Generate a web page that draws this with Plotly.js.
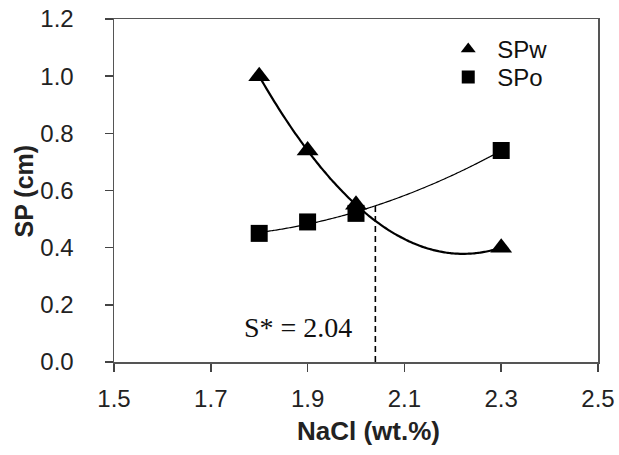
<!DOCTYPE html>
<html>
<head>
<meta charset="utf-8">
<script src="https://cdn.plot.ly/plotly-3.0.1.min.js"></script>
<style>
  html, body { margin: 0; padding: 0; background: #fff; }
  #chart { width: 619px; height: 455px; }
</style>
</head>
<body>
<div id="chart"></div>
<script>
// Salt concentration (NaCl, wt.%) and measured solubilization parameters (cm)
const nacl = [1.8, 1.9, 2.0, 2.3];
const spW = [1.00, 0.74, 0.55, 0.40];
const spO = [0.45, 0.49, 0.52, 0.74];
// Optimal salinity read from the crossing of the two fits
const sStar = 2.04;
const xTicks = [1.5, 1.7, 1.9, 2.1, 2.3, 2.5];
const yTicks = [0.0, 0.2, 0.4, 0.6, 0.8, 1.0, 1.2];

// Least-squares quadratic trend line
function quadFit(xs, ys) {
  const S = [0, 0, 0, 0, 0], T = [0, 0, 0];
  xs.forEach((x, i) => {
    for (let k = 0; k < 5; k++) S[k] += Math.pow(x, k);
    for (let k = 0; k < 3; k++) T[k] += Math.pow(x, k) * ys[i];
  });
  const A = [[S[0], S[1], S[2], T[0]], [S[1], S[2], S[3], T[1]], [S[2], S[3], S[4], T[2]]];
  for (let c = 0; c < 3; c++) {
    for (let r = c + 1; r < 3; r++) {
      const f = A[r][c] / A[c][c];
      for (let k = c; k < 4; k++) A[r][k] -= f * A[c][k];
    }
  }
  const p = [0, 0, 0];
  for (let r = 2; r >= 0; r--) {
    let s = A[r][3];
    for (let k = r + 1; k < 3; k++) s -= A[r][k] * p[k];
    p[r] = s / A[r][r];
  }
  return x => p[0] + p[1] * x + p[2] * x * x;
}

const fW = quadFit(nacl, spW);
const fO = quadFit(nacl, spO);
const xFit = [];
const x0 = Math.min(...nacl), x1 = Math.max(...nacl);
for (let i = 0; i <= 100; i++) xFit.push(x0 + (x1 - x0) * i / 100);

const sans = 'Liberation Sans, Arial, sans-serif';

const traces = [
  { x: xFit, y: xFit.map(fW), mode: 'lines', line: { color: '#000', width: 2.2, shape: 'spline' },
    showlegend: false, hoverinfo: 'skip' },
  { x: xFit, y: xFit.map(fO), mode: 'lines', line: { color: '#000', width: 1.2, shape: 'spline' },
    showlegend: false, hoverinfo: 'skip' },
  { x: nacl, y: spW, mode: 'markers', name: 'SPw',
    marker: { symbol: 'triangle-up', size: 19, color: '#000' }, showlegend: false },
  { x: nacl, y: spO, mode: 'markers', name: 'SPo',
    marker: { symbol: 'square', size: 17, color: '#000' }, showlegend: false },
  // legend entries, one per legend box
  { x: [null], y: [null], mode: 'markers', name: 'SPw', legend: 'legend',
    marker: { symbol: 'triangle-up', size: 13, color: '#000' } },
  { x: [null], y: [null], mode: 'markers', name: 'SPo', legend: 'legend2',
    marker: { symbol: 'square', size: 13, color: '#000' } }
];

const legendBase = {
  xanchor: 'left', yanchor: 'top', bgcolor: 'rgba(0,0,0,0)', borderwidth: 0,
  font: { family: sans, size: 24, color: '#111' }, itemwidth: 48
};

const axisFont = { family: sans, size: 24, color: '#222' };

const layout = {
  width: 619, height: 455,
  margin: { l: 114, r: 21, t: 19, b: 93 },
  paper_bgcolor: '#fff', plot_bgcolor: '#fff',
  showlegend: true,
  legend: Object.assign({ x: 0.672, y: 0.977 }, legendBase),
  legend2: Object.assign({ x: 0.672, y: 0.895 }, legendBase),
  xaxis: {
    range: [1.5, 2.5], tickvals: xTicks, ticktext: xTicks.map(v => v.toFixed(1)),
    ticks: 'outside', ticklen: 8, tickcolor: '#444', tickwidth: 1.5,
    showline: true, linecolor: '#555', linewidth: 1.5, mirror: true,
    showgrid: false, zeroline: false, tickfont: axisFont, ticklabelstandoff: 7
  },
  yaxis: {
    range: [0, 1.2], tickvals: yTicks, ticktext: yTicks.map(v => v.toFixed(1)),
    ticks: 'outside', ticklen: 8, tickcolor: '#444', tickwidth: 1.5,
    showline: true, linecolor: '#555', linewidth: 1.5, mirror: true,
    showgrid: false, zeroline: false, tickfont: axisFont, ticklabelstandoff: 26
  },
  shapes: [
    { type: 'line', xref: 'x', yref: 'y', x0: sStar, x1: sStar, y0: 0, y1: fO(sStar),
      line: { color: '#000', width: 1.6, dash: '6px,4px' } }
  ],
  annotations: [
    { xref: 'x', yref: 'y', x: 1.995, y: 0.12, xanchor: 'right', yanchor: 'middle',
      text: 'S* = ' + sStar.toFixed(2), showarrow: false,
      font: { family: 'Liberation Serif, Times New Roman, serif', size: 28, color: '#111' } },
    { xref: 'paper', yref: 'paper', x: 0.525, y: -0.20, xanchor: 'center', yanchor: 'middle',
      text: '<b>NaCl (wt.%)</b>', showarrow: false,
      font: { family: sans, size: 26, color: '#222' } },
    { xref: 'paper', yref: 'paper', x: -0.186, y: 0.5, xanchor: 'center', yanchor: 'middle',
      text: '<b>SP (cm)</b>', textangle: -90, showarrow: false,
      font: { family: sans, size: 25, color: '#222' } }
  ]
};

Plotly.newPlot('chart', traces, layout, { staticPlot: true, displayModeBar: false });
</script>
</body>
</html>
